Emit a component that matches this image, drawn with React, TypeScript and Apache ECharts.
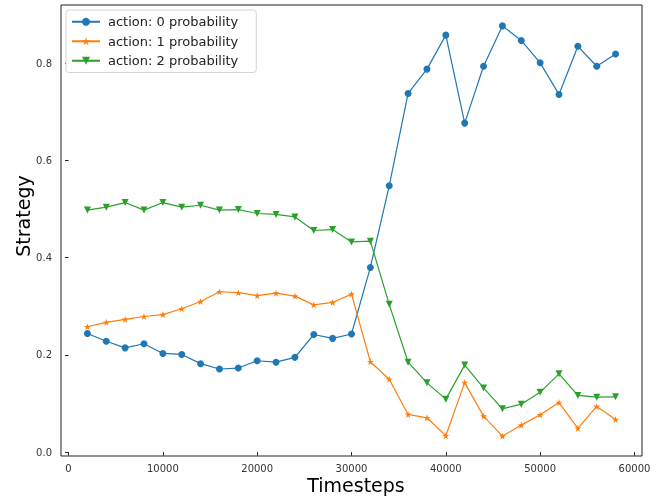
import React, { useEffect, useRef } from "react";
import * as echarts from "echarts";

const timesteps = [2000, 4000, 6000, 8000, 10000, 12000, 14000, 16000, 18000, 20000, 22000, 24000, 26000, 28000, 30000, 32000, 34000, 36000, 38000, 40000, 42000, 44000, 46000, 48000, 50000, 52000, 54000, 56000, 58000];
const action0 = [0.244, 0.228, 0.2145, 0.223, 0.203, 0.201, 0.182, 0.171, 0.173, 0.188, 0.185, 0.195, 0.242, 0.234, 0.243, 0.38, 0.548, 0.738, 0.788, 0.858, 0.677, 0.794, 0.877, 0.847, 0.801, 0.736, 0.835, 0.794, 0.819];
const action1 = [0.258, 0.267, 0.273, 0.279, 0.283, 0.295, 0.31, 0.33, 0.328, 0.322, 0.327, 0.321, 0.303, 0.308, 0.325, 0.186, 0.15, 0.0775, 0.0706, 0.0336, 0.143, 0.074, 0.033, 0.0555, 0.0768, 0.102, 0.049, 0.094, 0.067];
const action2 = [0.498, 0.504, 0.5135, 0.498, 0.5135, 0.504, 0.508, 0.498, 0.499, 0.491, 0.489, 0.484, 0.456, 0.458, 0.4325, 0.434, 0.304, 0.185, 0.1425, 0.109, 0.179, 0.132, 0.089, 0.0987, 0.123, 0.161, 0.1166, 0.113, 0.1137];
const seriesNames = ["action: 0 probability", "action: 1 probability", "action: 2 probability"];
const xTicks = [0, 10000, 20000, 30000, 40000, 50000, 60000];
const yTicks = [0, 0.2, 0.4, 0.6, 0.8];
const xTitle = "Timesteps";
const yTitle = "Strategy";

const STAR = "path://M100 0 L122.45 69.1 L195.11 69.1 L136.33 111.8 L158.78 180.9 L100 138.2 L41.22 180.9 L63.67 111.8 L4.89 69.1 L77.55 69.1 Z";
const FONT = "DejaVu Sans";

export default function App() {
  const ref = useRef<HTMLDivElement>(null);
  useEffect(() => {
    if (!ref.current) return;
    const chart = echarts.init(ref.current, null, { renderer: "svg" });
    const mk = (name: string, vals: number[], color: string, symbol: string, size: number, rotate = 0) => ({
      name,
      type: "line",
      data: timesteps.map((t, i) => [t, vals[i]]),
      symbol,
      symbolSize: size,
      symbolRotate: rotate,
      showAllSymbol: true,
      lineStyle: { color, width: 1.2 },
      itemStyle: { color, borderWidth: 0 },
      emphasis: { disabled: true },
    });
    chart.setOption({
      animation: false,
      textStyle: { fontFamily: FONT },
      grid: {
        left: 61,
        right: 25,
        top: 5,
        bottom: 44,
        show: true,
        borderColor: "#222",
        borderWidth: 1,
        backgroundColor: "transparent",
        outerBoundsMode: "none",
        containLabel: false,
      },
      legend: {
        orient: "vertical",
        left: 66,
        top: 10,
        padding: [4, 18, 4, 5],
        itemGap: 4,
        itemWidth: 28,
        itemHeight: 10,
        backgroundColor: "#fff",
        borderColor: "#d5d5d5",
        borderWidth: 1,
        borderRadius: 3,
        textStyle: { fontSize: 13, color: "#222", fontFamily: FONT, padding: [0, 0, 0, 3], lineHeight: 15.5 },
        data: seriesNames,
      },
      graphic: [
        {
          type: "text",
          x: 356,
          y: 485,
          style: { text: xTitle, fontSize: 19, fontFamily: FONT, fill: "#000", textAlign: "center", textVerticalAlign: "middle" },
        },
        {
          type: "text",
          x: 23,
          y: 216,
          rotation: Math.PI / 2,
          style: { text: yTitle, fontSize: 19, fontFamily: FONT, fill: "#000", textAlign: "center", textVerticalAlign: "middle" },
        },
      ],
      xAxis: {
        type: "value",
        min: -800,
        max: 60800,
        axisLine: { show: false },
        splitLine: { show: false },
        axisTick: { show: true, inside: false, length: 3.5, customValues: xTicks, lineStyle: { color: "#222" } },
        axisLabel: { customValues: xTicks, fontSize: 10, color: "#333", margin: 7, fontFamily: FONT, formatter: (v: number) => String(v) },
      },
      yAxis: {
        type: "value",
        min: -0.008,
        max: 0.92,
        axisLine: { show: false },
        splitLine: { show: false },
        axisTick: { show: true, inside: false, length: 3.5, customValues: yTicks, lineStyle: { color: "#222" } },
        axisLabel: {
          customValues: yTicks,
          fontSize: 10,
          color: "#333",
          margin: 9,
          fontFamily: FONT,
          formatter: (v: number) => v.toFixed(1),
        },
      },
      series: [
        mk(seriesNames[0], action0, "#1f77b4", "circle", 7),
        mk(seriesNames[1], action1, "#ff7f0e", STAR, 7),
        mk(seriesNames[2], action2, "#2ca02c", "triangle", 7, 180),
      ],
    });
    return () => chart.dispose();
  }, []);
  return <div ref={ref} style={{ position: "fixed", left: 0, top: 0, width: 667, height: 500 }} />;
}
